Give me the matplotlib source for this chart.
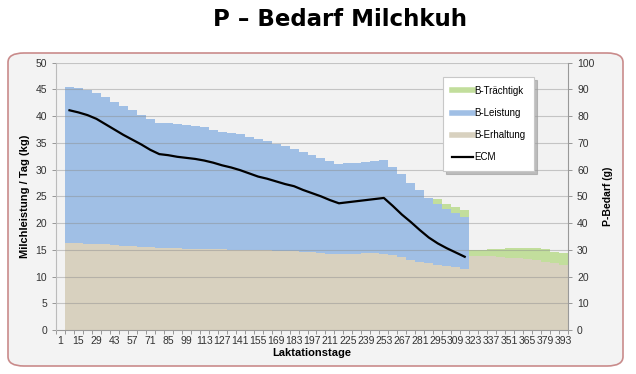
import matplotlib
matplotlib.use("Agg")
import matplotlib.pyplot as plt
from matplotlib.patches import FancyBboxPatch
from matplotlib.lines import Line2D
import numpy as np

# Kategorien: Laktationstage (wöchentlich)
days = list(range(1, 394, 7))

# P-Bedarf (g) je Woche, ab Tag 8
erhaltung = [32.5, 32.4, 32.3, 32.2, 32.0, 31.8, 31.6, 31.4, 31.2, 31.0,
             30.7, 30.5, 30.5, 30.4, 30.4, 30.3, 30.3, 30.2, 30.1, 30.0,
             29.9, 29.9, 29.8, 29.7, 29.6, 29.4, 29.2, 29.0, 28.8, 28.6,
             28.5, 28.5, 28.6, 28.7, 28.7, 28.6, 28.0, 27.2, 26.1, 25.5,
             24.9, 24.5, 24.0, 23.4, 22.8, 27.6, 27.6, 27.5, 27.3, 27.1,
             26.8, 26.5, 26.1, 25.6, 24.9, 24.4]
leistung = [58.5, 58.0, 57.4, 56.4, 55.0, 53.4, 52.2, 50.8, 49.3, 48.0,
            46.9, 46.8, 46.5, 46.2, 45.8, 45.5, 44.6, 44.0, 43.5, 43.3,
            42.4, 41.5, 40.8, 39.9, 39.1, 38.3, 37.5, 36.5, 35.4, 34.5,
            33.5, 33.9, 34.0, 34.2, 34.5, 35.0, 32.9, 31.1, 29.0, 26.7,
            24.6, 22.7, 21.4, 20.5, 19.5]
traechtig = [0] * 41 + [1.9, 1.8, 2.1, 2.5, 2.5, 2.5, 2.7, 3.1, 3.4, 3.7,
                        4.0, 4.4, 4.7, 4.3, 4.4]

# Milchleistung ECM (kg / Tag)
ecm = [41.1, 40.7, 40.2, 39.5, 38.5, 37.5, 36.5, 35.6, 34.7, 33.7,
       32.9, 32.7, 32.4, 32.2, 32.0, 31.7, 31.3, 30.8, 30.4, 29.9,
       29.3, 28.7, 28.3, 27.8, 27.3, 26.9, 26.2, 25.6, 25.0, 24.3,
       23.7, 23.9, 24.1, 24.3, 24.5, 24.7, 23.2, 21.6, 20.2, 18.7,
       17.3, 16.2, 15.3, 14.5, 13.7]

c_erh = "#d8d1bf"
c_lei = "#a0bfe5"
c_tra = "#c2de9c"
grid_c = "#8c8c8c"
tick_c = "#333333"

fig = plt.figure(figsize=(6.36, 3.74), dpi=100)
fig.patch.set_facecolor("white")

# Diagrammrahmen
frame = FancyBboxPatch((8 / 636, 8 / 374), 615 / 636, 313 / 374,
                       boxstyle="round,pad=0,rounding_size=0.025",
                       transform=fig.transFigure, facecolor="#f3f3f3",
                       edgecolor="#c98b8b", linewidth=1.2, zorder=-5)
fig.patches.append(frame)

fig.text(340 / 636, 1 - 20 / 374, "P \u2013 Bedarf Milchkuh", ha="center", va="center",
         fontsize=16.5, fontweight="bold", family="DejaVu Sans")

ax = fig.add_axes([56 / 636, 44 / 374, 512 / 636, 267.3 / 374])
ax.set_facecolor("#f2f2f2")
ax2 = ax.twinx()

x = np.arange(len(days))
xb = x[1:]
n_l = len(leistung)

erh = np.array(erhaltung)
lei = np.array(leistung + [0] * (len(erhaltung) - n_l))
tra = np.array(traechtig)

bar_kw = dict(width=1.0, linewidth=0, antialiased=False, zorder=2)
ax.bar(xb, erh, color=c_erh, **bar_kw)
ax.bar(xb, lei, bottom=erh, color=c_lei, **bar_kw)
ax.bar(xb, tra, bottom=erh + lei, color=c_tra, **bar_kw)

ax2.plot(x[1:n_l + 1], ecm, color="black", lw=1.6, zorder=3)

ax.set_xlim(-0.5, len(days) - 0.5)
ax.set_ylim(0, 100)
ax2.set_ylim(0, 50)

# Gitterlinien scheinen durch die Balken
for yv in range(10, 101, 10):
    ax.axhline(yv, color=grid_c, lw=0.8, alpha=0.45, zorder=2.5)

# Achsen tauschen: Balken rechts (g), Linie links (kg)
ax.yaxis.tick_right()
ax.yaxis.set_label_position("right")
ax2.yaxis.tick_left()
ax2.yaxis.set_label_position("left")

ax.set_yticks(range(0, 101, 10))
ax2.set_yticks(range(0, 51, 5))
ax.set_xticks(x[::2])
ax.set_xticklabels([str(d) for d in days[::2]])
ax.set_xticks(np.arange(-0.5, len(days), 1), minor=True)

for a in (ax, ax2):
    for s in a.spines.values():
        s.set_visible(False)
    a.tick_params(axis="both", labelsize=7.5, colors=tick_c, length=3, width=0.6)
    for lab in a.get_xticklabels() + a.get_yticklabels():
        lab.set_family("Liberation Sans")
ax.tick_params(axis="x", which="major", length=0, pad=4)
ax.tick_params(axis="x", which="minor", length=3, color="#888888", width=0.6)
ax.tick_params(axis="y", color="#888888")
ax2.tick_params(axis="y", color="#888888")
ax.spines["bottom"].set_visible(True)
ax.spines["bottom"].set_color("#999999")
ax2.spines["left"].set_visible(True)
ax2.spines["left"].set_color("#bbbbbb")
ax2.spines["right"].set_visible(True)
ax2.spines["right"].set_color("#999999")

ax.set_xlabel("Laktationstage", fontsize=8, fontweight="bold", family="Liberation Sans", labelpad=2)
ax2.set_ylabel("Milchleistung / Tag (kg)", fontsize=8, fontweight="bold",
               family="Liberation Sans", labelpad=4)
ax.set_ylabel("P-Bedarf (g)", fontsize=7.5, fontweight="bold", family="Liberation Sans", labelpad=6)

handles = [Line2D([], [], color=c_tra, lw=4),
           Line2D([], [], color=c_lei, lw=4),
           Line2D([], [], color=c_erh, lw=4),
           Line2D([], [], color="black", lw=1.6)]
labels = ["B-Trächtigk", "B-Leistung", "B-Erhaltung", "ECM"]
leg = ax2.legend(handles, labels, loc="upper left", bbox_to_anchor=(0.756, 0.946),
                 frameon=True, fancybox=False,
                 shadow={"color": "#9a9a9a", "alpha": 0.6},
                 prop={"family": "Liberation Sans", "size": 7},
                 handlelength=2.2, handletextpad=0.1, labelspacing=1.25,
                 borderpad=0.9, borderaxespad=0)
leg.get_frame().set_edgecolor("#c8c8c8")
leg.get_frame().set_linewidth(0.8)

fig.savefig("out.png", dpi=100)
